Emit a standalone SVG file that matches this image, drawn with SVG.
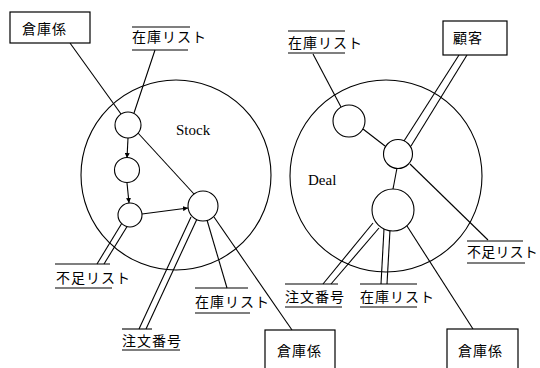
<svg xmlns="http://www.w3.org/2000/svg" width="540" height="368" viewBox="0 0 540 368">
<defs>
<marker id="ah" viewBox="0 0 6 6" refX="6" refY="3" markerWidth="5" markerHeight="5" orient="auto" markerUnits="userSpaceOnUse">
<path d="M0,0 L6,3 L0,6 Z" fill="#000"/>
</marker>
<style>
.ln{stroke:#000;stroke-width:1.1;fill:none}
.c{stroke:#000;stroke-width:1.1;fill:#fff}
.big{stroke:#000;stroke-width:1.1;fill:none}
.bx{stroke:#000;stroke-width:1.2;fill:#fff}
.jp{font-family:"Noto Sans CJK JP","Liberation Serif",serif;font-size:14px;letter-spacing:1px;fill:#000}
.en{font-family:"Liberation Serif",serif;font-size:15px;fill:#000}
</style>
</defs>
<rect width="540" height="368" fill="#fff"/>
<g id="stock-process">
<circle class="big" cx="176" cy="175" r="95"/>
<text class="en" x="176" y="135">Stock</text>
</g>
<g id="deal-process">
<circle class="big" cx="386" cy="176" r="96"/>
<text class="en" x="308" y="185">Deal</text>
</g>
<g id="connectors">
<!-- Stock -->
<line class="ln" x1="70" y1="43" x2="121" y2="114"/>
<line class="ln" x1="155" y1="50" x2="134" y2="113"/>
<line class="ln" x1="138" y1="133" x2="194" y2="194"/>
<line class="ln" x1="128" y1="138" x2="127" y2="158" marker-end="url(#ah)"/>
<line class="ln" x1="127" y1="183" x2="129" y2="203" marker-end="url(#ah)"/>
<line class="ln" x1="142" y1="214" x2="188" y2="208" marker-end="url(#ah)"/>
<line class="ln" x1="122" y1="223" x2="97" y2="264"/>
<line class="ln" x1="128" y1="225" x2="104" y2="264"/>
<line class="ln" x1="191" y1="217" x2="139" y2="329"/>
<line class="ln" x1="197" y1="219" x2="146" y2="329"/>
<line class="ln" x1="207" y1="220" x2="227" y2="288"/>
<line class="ln" x1="214" y1="217" x2="292" y2="330"/>
<!-- Deal -->
<line class="ln" x1="313" y1="54" x2="341" y2="107"/>
<line class="ln" x1="459" y1="55" x2="404" y2="141"/>
<line class="ln" x1="467" y1="55" x2="411" y2="146"/>
<line class="ln" x1="363" y1="129" x2="385" y2="146"/>
<line class="ln" x1="397" y1="168" x2="393" y2="189"/>
<line class="ln" x1="410" y1="164" x2="488" y2="240"/>
<line class="ln" x1="373" y1="223" x2="323" y2="284"/>
<line class="ln" x1="379" y1="228" x2="331" y2="284"/>
<line class="ln" x1="384" y1="229" x2="381" y2="284"/>
<line class="ln" x1="390" y1="230" x2="387" y2="284"/>
<line class="ln" x1="407" y1="226" x2="473" y2="329"/>
</g>
<g id="stock-p1"><circle class="c" cx="128" cy="125" r="13"/></g>
<g id="stock-p2"><circle class="c" cx="127" cy="170" r="12.5"/></g>
<g id="stock-p3"><circle class="c" cx="130" cy="215" r="12"/></g>
<g id="stock-p4"><circle class="c" cx="203" cy="206" r="15"/></g>
<g id="deal-p1"><circle class="c" cx="349" cy="121" r="16"/></g>
<g id="deal-p2"><circle class="c" cx="398" cy="154" r="14.5"/></g>
<g id="deal-p3"><circle class="c" cx="393" cy="210" r="21"/></g>
<g id="box-souko-1">
<rect class="bx" x="10" y="12" width="80" height="31"/>
<text class="jp" x="22" y="34">倉庫係</text>
</g>
<g id="box-kokyaku">
<rect class="bx" x="443" y="21" width="64" height="34"/>
<text class="jp" x="453" y="43">顧客</text>
</g>
<g id="box-souko-2">
<rect class="bx" x="265" y="330" width="70" height="40"/>
<text class="jp" x="277" y="356">倉庫係</text>
</g>
<g id="box-souko-3">
<rect class="bx" x="447" y="329" width="71" height="41"/>
<text class="jp" x="458" y="356">倉庫係</text>
</g>
<g id="store-zaiko-1">
<line class="ln" x1="132" y1="27" x2="190" y2="27"/>
<text class="jp" x="132" y="42">在庫リスト</text>
<line class="ln" x1="132" y1="50" x2="188" y2="50"/>
</g>
<g id="store-zaiko-2">
<line class="ln" x1="288" y1="31" x2="345" y2="31"/>
<text class="jp" x="288" y="48">在庫リスト</text>
<line class="ln" x1="288" y1="53" x2="345" y2="53"/>
</g>
<g id="store-fusoku-1">
<line class="ln" x1="55" y1="264" x2="110" y2="264"/>
<text class="jp" x="56" y="283">不足リスト</text>
<line class="ln" x1="55" y1="288" x2="112" y2="288"/>
</g>
<g id="store-chumon-1">
<line class="ln" x1="122" y1="329" x2="152" y2="329"/>
<text class="jp" x="122" y="346">注文番号</text>
<line class="ln" x1="122" y1="350" x2="180" y2="350"/>
</g>
<g id="store-zaiko-3">
<line class="ln" x1="195" y1="288" x2="248" y2="288"/>
<text class="jp" x="195" y="307">在庫リスト</text>
<line class="ln" x1="195" y1="313" x2="250" y2="313"/>
</g>
<g id="store-chumon-2">
<line class="ln" x1="285" y1="284" x2="338" y2="284"/>
<text class="jp" x="285" y="302">注文番号</text>
<line class="ln" x1="285" y1="307" x2="342" y2="307"/>
</g>
<g id="store-zaiko-4">
<line class="ln" x1="360" y1="284" x2="417" y2="284"/>
<text class="jp" x="360" y="302">在庫リスト</text>
<line class="ln" x1="360" y1="307" x2="417" y2="307"/>
</g>
<g id="store-fusoku-2">
<line class="ln" x1="467" y1="241" x2="523" y2="241"/>
<text class="jp" x="467" y="257" style="letter-spacing:0.2px">不足リスト</text>
<line class="ln" x1="467" y1="263" x2="525" y2="263"/>
</g>
</svg>
